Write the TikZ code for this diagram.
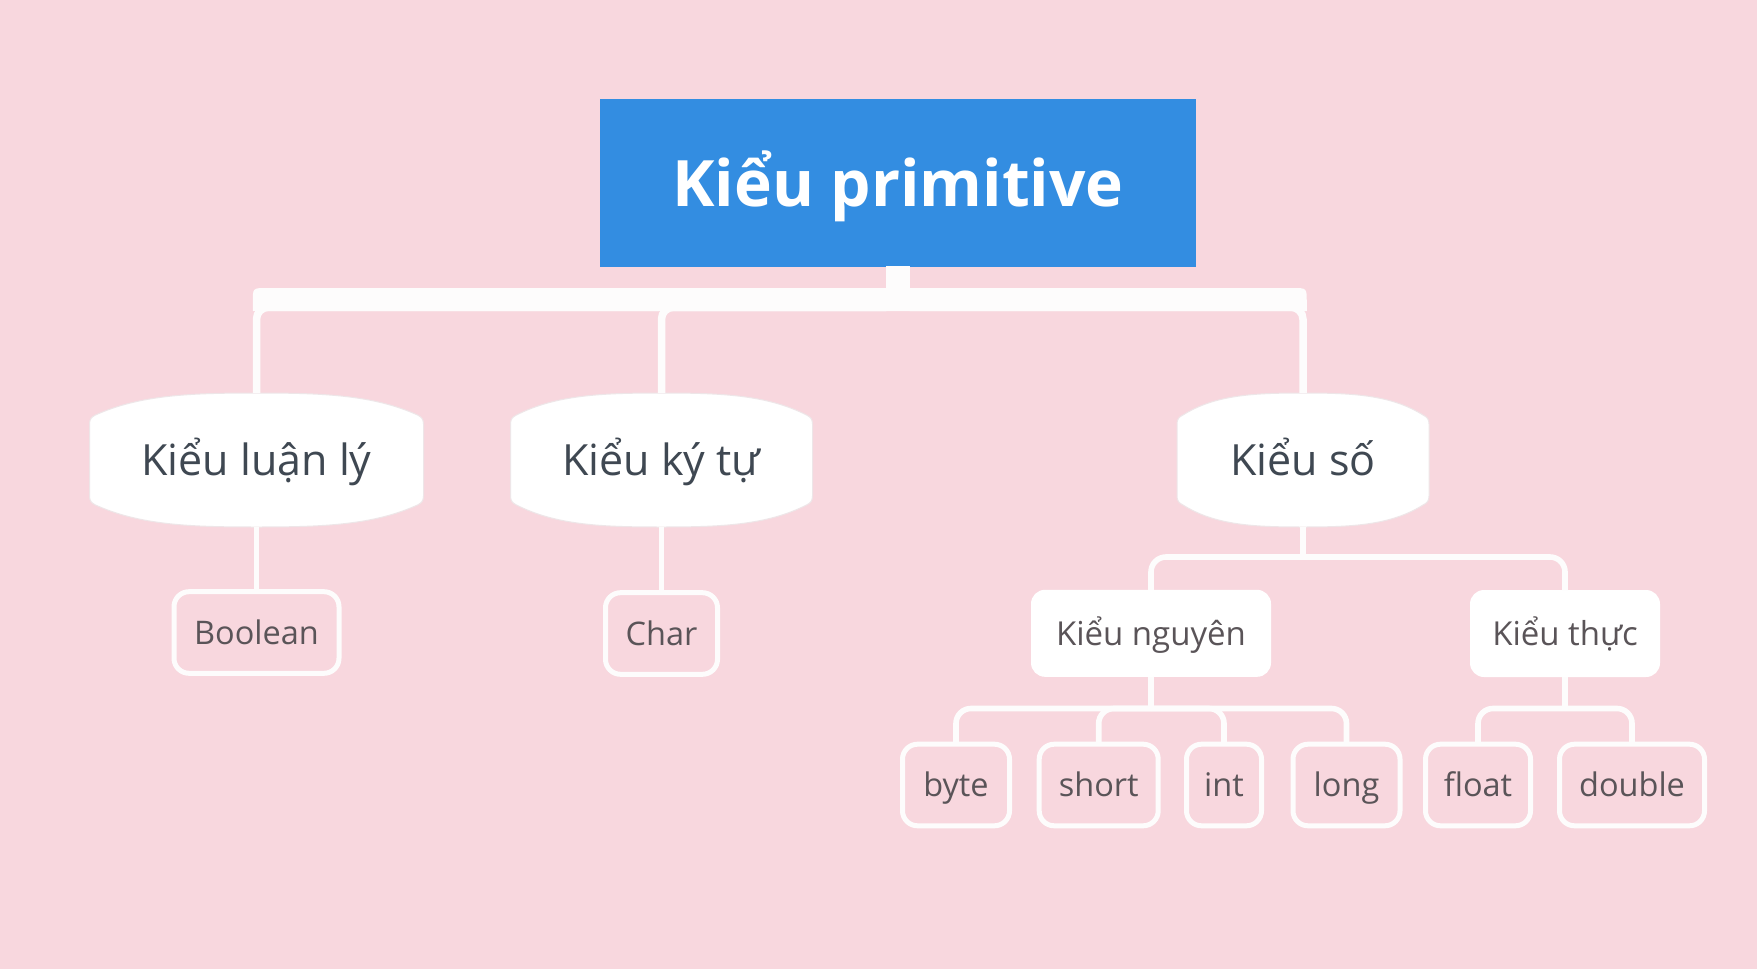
\documentclass[tikz,border=0pt]{standalone}
\usepackage{fontspec}
\setmainfont{Open Sans}
\usetikzlibrary{calc}
\definecolor{bgpink}{HTML}{F8D7DE}
\definecolor{titleblue}{HTML}{338DE1}
\definecolor{linewhite}{HTML}{FDFCFC}
\definecolor{darktext}{HTML}{3F4852}
\definecolor{leaftext}{HTML}{5A5458}
\definecolor{hexedge}{HTML}{EEE6E8}

\newcommand\hexnode[5]{%
  \pgfmathsetmacro\hL{#2-#4/2}%
  \pgfmathsetmacro\hR{#2+#4/2}%
  \pgfmathsetmacro\hT{#3-67}%
  \pgfmathsetmacro\hB{#3+67}%
  \pgfmathsetmacro\hW{#4}%
  \pgfmathsetmacro\hC{#2}%
  \path[hexfill]
    (\hL,{\hT+31}) -- (\hL,{\hB-31})
    .. controls (\hL,{\hB-26}) and ({\hL+2},{\hB-24}) .. ({\hL+6},{\hB-22})
    .. controls ({\hL+0.15*\hW},{\hB-2}) and ({\hC-0.2*\hW},\hB) .. (\hC,\hB)
    .. controls ({\hC+0.2*\hW},\hB) and ({\hR-0.15*\hW},{\hB-2}) .. ({\hR-6},{\hB-22})
    .. controls ({\hR-2},{\hB-24}) and (\hR,{\hB-26}) .. (\hR,{\hB-31})
    -- (\hR,{\hT+31})
    .. controls (\hR,{\hT+26}) and ({\hR-2},{\hT+24}) .. ({\hR-6},{\hT+22})
    .. controls ({\hR-0.15*\hW},{\hT+2}) and ({\hC+0.2*\hW},\hT) .. (\hC,\hT)
    .. controls ({\hC-0.2*\hW},\hT) and ({\hL+0.15*\hW},{\hT+2}) .. ({\hL+6},{\hT+22})
    .. controls ({\hL+2},{\hT+24}) and (\hL,{\hT+26}) .. (\hL,{\hT+31})
    -- cycle;
  \node[hexlabel, minimum width=#4pt] (#1) at (#2,#3) {#5};
}

\begin{document}
\begin{tikzpicture}[x=1pt,y=-1pt,
  rootbox/.style={fill=titleblue, text=white, font=\fontsize{64}{76}\selectfont\bfseries,
    minimum width=596pt, minimum height=168pt, inner sep=0pt, outer sep=0pt,
    text height=46pt, text depth=0pt},
  hexfill/.style={fill=white, draw=hexedge, line width=1pt},
  hexlabel/.style={font=\fontsize{43}{50}\selectfont, text=darktext, inner sep=0pt,
    outer sep=0pt, minimum height=134pt, text height=30.7pt, text depth=0pt},
  midbox/.style={fill=white, rounded corners=14pt, font=\fontsize{33}{40}\selectfont,
    text=leaftext, inner sep=0pt, outer sep=0pt, minimum height=87pt,
    text height=23.6pt, text depth=0pt},
  leafbox/.style={draw=linewhite, line width=5pt, rounded corners=15pt, fill=bgpink,
    font=\fontsize{32.5}{40}\selectfont, text=leaftext, inner sep=0pt, outer sep=0pt,
    minimum height=81.6pt, text height=23.2pt, text depth=0pt},
  topconn/.style={draw=linewhite, line width=7.5pt, rounded corners=12pt},
  conn/.style={draw=linewhite, line width=5.6pt, rounded corners=15pt}
]
\useasboundingbox (0,0) rectangle (1757,969);
\fill[bgpink] (0,0) rectangle (1757,969);

% root
\node[rootbox] (root) at (898,183) {Kiểu primitive};

% thick trunk of the first branches
\fill[linewhite] (886,266) rectangle (910,290);
\fill[linewhite] (252.75,311) -- (252.75,302) .. controls (252.75,288) .. (266.75,288)
  -- (1292.75,288) .. controls (1306.75,288) .. (1306.75,302) -- (1306.75,311) -- cycle;

% level 1
\hexnode{luan}{256.5}{460}{334}{Kiểu luận lý}
\hexnode{kytu}{661.5}{460}{302}{Kiểu ký tự}
\hexnode{so}{1303}{460}{252}{Kiểu số}

\draw[topconn] (root.south) -- ++(0,40.25) -| (luan.north);
\draw[topconn] (root.south) -- ++(0,40.25) -| (kytu.north);
\draw[topconn] (root.south) -- ++(0,40.25) -| (so.north);

% level 2
\node[leafbox, minimum width=165pt] (boolean) at (256.5,632.5) {Boolean};
\node[leafbox, minimum width=112pt] (char) at (661.5,633.5) {Char};
\node[midbox, minimum width=240pt] (nguyen) at (1151,633.3) {Kiểu nguyên};
\node[midbox, minimum width=190pt] (thuc) at (1565,633.5) {Kiểu thực};

\draw[conn] (luan.south) -- (boolean.north);
\draw[conn] (kytu.south) -- (char.north);
\draw[conn] (so.south) -- ++(0,30) coordinate (j1);
\draw[conn] (j1) -| (nguyen.north);
\draw[conn] (j1) -| (thuc.north);

% level 3
\node[leafbox, minimum width=107pt] (byte) at (956,785) {byte};
\node[leafbox, minimum width=119pt] (short) at (1098.7,785) {short};
\node[leafbox, minimum width=75pt] (int) at (1224,785) {int};
\node[leafbox, minimum width=107pt] (long) at (1346.5,785) {long};
\node[leafbox, minimum width=105pt] (float) at (1478,785) {float};
\node[leafbox, minimum width=145pt] (double) at (1632,785) {double};

\draw[conn] (nguyen.south) -- ++(0,31.7) coordinate (j2);
\draw[conn] (j2) -| (byte.north);
\draw[conn] (j2) -| (short.north);
\draw[conn] (j2) -| (int.north);
\draw[conn] (j2) -| (long.north);
\draw[conn] (thuc.south) -- ++(0,31.5) coordinate (j3);
\draw[conn] (j3) -| (float.north);
\draw[conn] (j3) -| (double.north);
\end{tikzpicture}
\end{document}
